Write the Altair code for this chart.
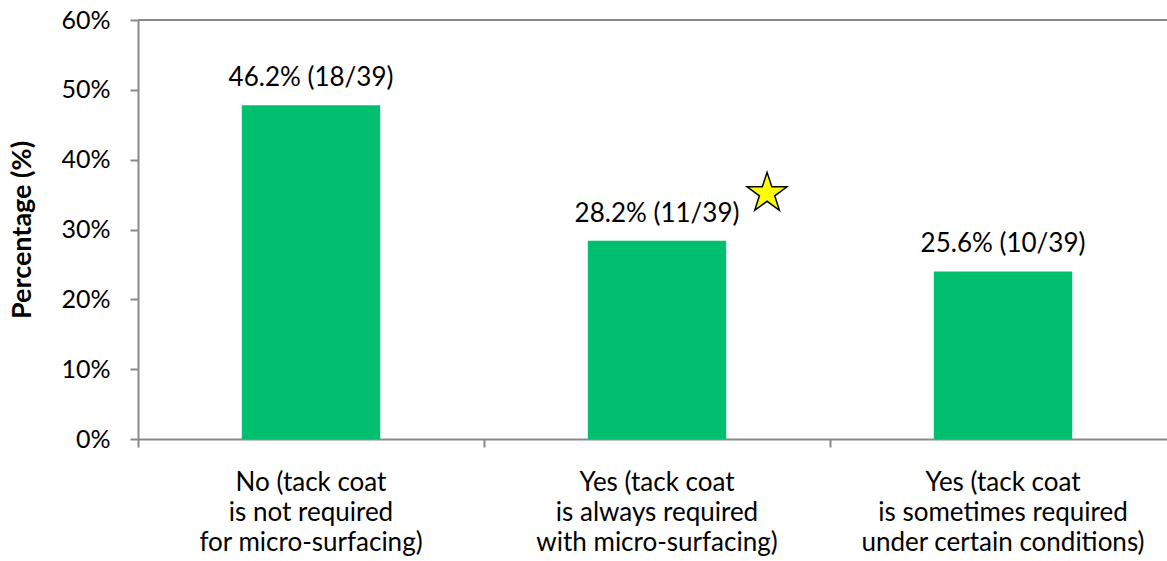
import altair as alt
import pandas as pd

categories = [
    "No (tack coat|is not required|for micro-surfacing)",
    "Yes (tack coat|is always required|with micro-surfacing)",
    "Yes (tack coat|is sometimes required|under certain conditions)",
]
bar_values = [47.8, 28.4, 24.0]
bar_labels = ["46.2% (18/39)", "28.2% (11/39)", "25.6% (10/39)"]
star_category = [categories[1]]
star_value = [35.2]
star_glyph = ["\u2605"]

FONT = "Lato"
df = pd.DataFrame({"cat": categories, "val": bar_values, "lab": bar_labels})
star_df = pd.DataFrame({"cat": star_category, "val": star_value, "g": star_glyph})

xscale = alt.Scale(domain=categories, paddingInner=0, paddingOuter=0, range=[0, 1038])
yscale = alt.Scale(domain=[0, 60])

x_axis = alt.Axis(
    orient="bottom", bandPosition=0, labelAngle=0, labelExpr="split(datum.label, '|')",
    labelFont=FONT, labelFontSize=26, labelColor="#000000", labelLineHeight=30,
    labelBaseline="top", labelPadding=22, labelLimit=0, tickSize=8, tickWidth=2,
    tickColor="#898989", domainColor="#898989", domainWidth=2, grid=False,
    labelAlign="center", title=None,
)
y_axis = alt.Axis(
    orient="left", values=[0, 10, 20, 30, 40, 50, 60], labelExpr="datum.value + '%'",
    labelFont=FONT, labelFontSize=25, labelColor="#000000", labelPadding=20,
    tickSize=8, tickWidth=2, tickColor="#898989", domainColor="#898989", domainWidth=2,
    grid=False, title="Percentage (%)", titleFont=FONT, titleFontSize=27,
    titleFontWeight="bold", titleColor="#000000", titleAngle=-90,
    titleX=-116, titleY=209.5, titleAlign="center", titleBaseline="middle",
)

def xe():
    return alt.X("cat:N", scale=xscale, sort=None, axis=x_axis, title=None)

def ye():
    return alt.Y("val:Q", scale=yscale, axis=y_axis, title="Percentage (%)")

bars = alt.Chart(df).mark_bar(color="#00C070", width=alt.RelativeBandSize(0.4)).encode(x=xe(), y=ye())
labels = alt.Chart(df).mark_text(baseline="bottom", dy=-14, font=FONT, fontSize=26, color="#000000").encode(
    x=xe(), y=ye(), text="lab:N"
)
top_line = alt.Chart(df).mark_rule(color="#898989", strokeWidth=2).encode(
    y=alt.datum(60, scale=yscale, axis=y_axis, title="Percentage (%)")
)
star = alt.Chart(star_df).mark_text(
    font="DejaVu Sans", fontSize=52, fill="#FFFF00", stroke="#000000", strokeWidth=1.5,
    dx=110, dy=1, baseline="middle", align="center",
).encode(x=xe(), y=ye(), text="g:N")

chart = (
    alt.layer(bars, labels, top_line, star)
    .properties(
        width=1029, height=419,
        autosize=alt.AutoSizeParams(type="none"),
        padding={"left": 138, "top": 20, "right": 0, "bottom": 122},
        background="white",
    )
    .configure_view(stroke=None)
)
chart.save("out.html", embed_options={"renderer": "svg", "actions": False})
